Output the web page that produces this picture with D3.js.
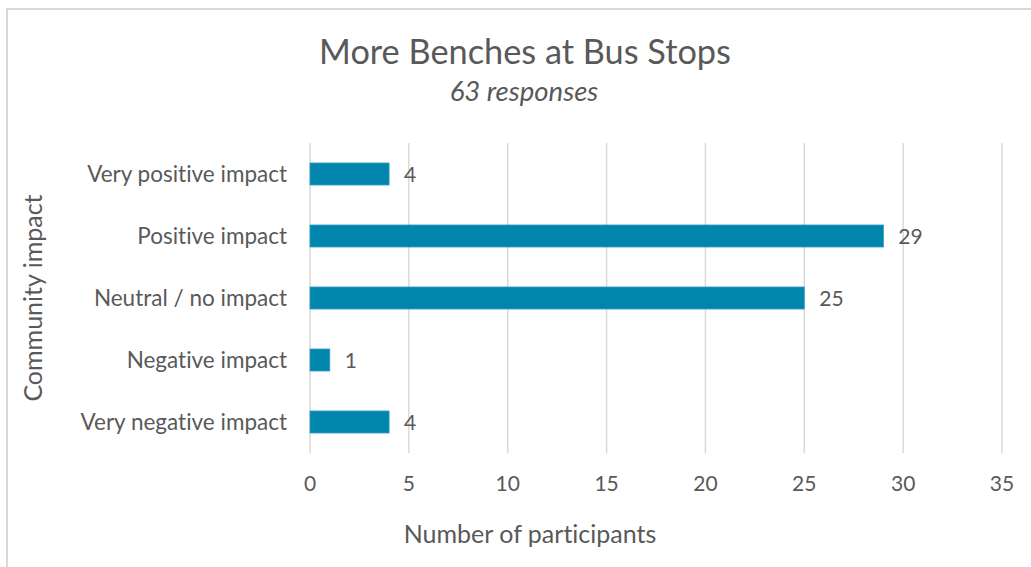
<!DOCTYPE html>
<html>
<head>
<meta charset="utf-8">
<script src="https://cdn.jsdelivr.net/npm/d3@7"></script>
<style>
  html, body { margin: 0; padding: 0; background: #fff; }
  svg { display: block; font-family: Lato, "Open Sans", sans-serif; font-variant-ligatures: none; }
  text { fill: #595959; }
</style>
</head>
<body>
<div id="chart"></div>
<script>
const categories = ["Very positive impact", "Positive impact", "Neutral / no impact", "Negative impact", "Very negative impact"];
const counts = [4, 29, 25, 1, 4];
const xTicks = [0, 5, 10, 15, 20, 25, 30, 35];

const width = 1031;
const height = 567;

const svg = d3.select("#chart").append("svg").attr("width", width).attr("height", height);

// chart frame (only left/top edges visible in the crop)
svg.append("rect")
  .attr("x", 7).attr("y", 9)
  .attr("width", 1060).attr("height", 620)
  .attr("fill", "none")
  .attr("stroke", "#d9d9d9")
  .attr("stroke-width", 2);

const x = d3.scaleLinear().domain([0, 35]).range([310, 1002]);
const y = d3.scaleBand().domain(categories).range([143, 453]).paddingInner(0.645).paddingOuter(0.3225);

// gridlines
svg.append("g")
  .selectAll("line")
  .data(xTicks)
  .join("line")
  .attr("x1", (d) => x(d))
  .attr("x2", (d) => x(d))
  .attr("y1", 143)
  .attr("y2", 453)
  .attr("stroke", "#d9d9d9")
  .attr("stroke-width", 1.5);

// bars
svg.append("g")
  .selectAll("rect")
  .data(categories)
  .join("rect")
  .attr("x", x(0))
  .attr("y", (d) => y(d))
  .attr("width", (d, i) => x(counts[i]) - x(0))
  .attr("height", y.bandwidth())
  .attr("fill", "#0086ad")
  .attr("stroke", "#2d9cc0")
  .attr("stroke-width", 0.8);

// value labels
svg.append("g")
  .selectAll("text")
  .data(categories)
  .join("text")
  .attr("x", (d, i) => x(counts[i]) + 15)
  .attr("y", (d) => y(d) + y.bandwidth() / 2 + 8)
  .attr("font-size", 21)
  .text((d, i) => counts[i]);

// category labels
svg.append("g")
  .selectAll("text")
  .data(categories)
  .join("text")
  .attr("x", 287)
  .attr("y", (d) => y(d) + y.bandwidth() / 2 + 8)
  .attr("text-anchor", "end")
  .attr("font-size", 22.5)
  .text((d) => d);

// x tick labels
svg.append("g")
  .selectAll("text")
  .data(xTicks)
  .join("text")
  .attr("x", (d) => x(d))
  .attr("y", 491)
  .attr("text-anchor", "middle")
  .attr("font-size", 21)
  .text((d) => d);

// titles
svg.append("text")
  .attr("x", 525).attr("y", 64)
  .attr("text-anchor", "middle")
  .attr("font-size", 34.3)
  .text("More Benches at Bus Stops");

svg.append("text")
  .attr("x", 524).attr("y", 101)
  .attr("text-anchor", "middle")
  .attr("font-size", 27.5)
  .attr("font-style", "italic")
  .text("63 responses");

svg.append("text")
  .attr("x", 530).attr("y", 543)
  .attr("text-anchor", "middle")
  .attr("font-size", 25)
  .text("Number of participants");

svg.append("text")
  .attr("transform", "translate(42,298) rotate(-90)")
  .attr("text-anchor", "middle")
  .attr("font-size", 25)
  .text("Community impact");
</script>
</body>
</html>
